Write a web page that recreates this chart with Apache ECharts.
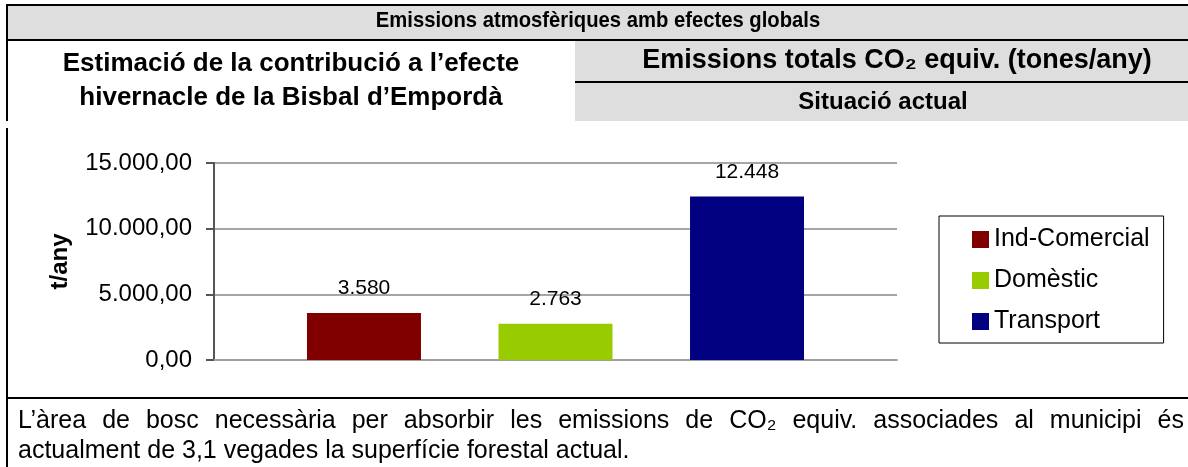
<!DOCTYPE html>
<html>
<head>
<meta charset="utf-8">
<title>Emissions atmosfèriques amb efectes globals</title>
<script src="https://cdn.jsdelivr.net/npm/echarts@6/dist/echarts.min.js"></script>
<style>
	html, body { margin: 0; padding: 0; background: #fff; }
	#chart { width: 1188px; height: 467px; }
</style>
</head>
<body>
<div id="chart"></div>
<script>
	// dades del grafic
	var categories = ['Situació actual'];
	var seriesNames = ['Ind-Comercial', 'Domèstic', 'Transport'];
	var seriesValues = [3580, 2763, 12448];
	var yTicks = [0, 5000, 10000, 15000];
	var seriesColors = ['#800000', '#99cc00', '#000080'];

	// textos de la taula
	var tableTitle = 'Emissions atmosfèriques amb efectes globals';
	var leftTitle = ['Estimació de la contribució a l’efecte', 'hivernacle de la Bisbal d’Empordà'];
	var rightTitle = 'Emissions totals CO₂ equiv. (tones/any)';
	var rightSubtitle = 'Situació actual';
	var noteLines = [
		'L’àrea de bosc necessària per absorbir les emissions de CO₂ equiv. associades al municipi és',
		'actualment de 3,1 vegades la superfície forestal actual.'
	];

	var FONT = '"Liberation Sans", Arial, sans-serif';
	var GRAY = '#dedede';

	function fmtCa(v, dec) {
		var s = v.toFixed(dec).split('.');
		s[0] = s[0].replace(/\B(?=(\d{3})+(?!\d))/g, '.');
		return dec ? s[0] + ',' + s[1] : s[0];
	}

	// text justificat de la nota: es mesura cada paraula
	function justifyWords(line, left, right, y, fontSize) {
		var ctx = document.createElement('canvas').getContext('2d');
		ctx.font = fontSize + 'px ' + FONT;
		var words = line.split(' ');
		var widths = words.map(function (w) { return ctx.measureText(w).width; });
		var total = widths.reduce(function (a, b) { return a + b; }, 0);
		var gap = (right - left - total) / (words.length - 1);
		var x = left;
		var out = [];
		for (var i = 0; i < words.length; i++) {
			out.push({
				type: 'text', x: x, y: y,
				style: {text: words[i], fontSize: fontSize, fontFamily: FONT, fill: '#000', align: 'left', verticalAlign: 'middle'}
			});
			x += widths[i] + gap;
		}
		return out;
	}

	function hline(x1, x2, y) {
		return {type: 'line', shape: {x1: x1, y1: y, x2: x2, y2: y}, style: {stroke: '#000', lineWidth: 2}};
	}

	function vline(x, y1, y2) {
		return {type: 'line', shape: {x1: x, y1: y1, x2: x, y2: y2}, style: {stroke: '#000', lineWidth: 2}};
	}

	function boldText(text, x, y, size, sx) {
		return {
			type: 'text', x: x, y: y, scaleX: sx || 1,
			style: {text: text, fontSize: size, fontWeight: 'bold', fontFamily: FONT, fill: '#000', align: 'center', verticalAlign: 'middle'}
		};
	}

	var graphics = [
		{type: 'rect', shape: {x: 7, y: 5, width: 1181, height: 35}, style: {fill: GRAY}},
		{type: 'rect', shape: {x: 575, y: 40, width: 613, height: 81}, style: {fill: GRAY}},
		hline(6, 1188, 5),
		hline(6, 1188, 40),
		hline(575, 1188, 82),
		hline(6, 1188, 398),
		vline(7, 4, 121),
		vline(7, 128, 467),
		boldText(tableTitle, 598, 21, 22, 0.92),
		boldText(leftTitle[0], 291, 64, 26),
		boldText(leftTitle[1], 291, 98, 26),
		boldText(rightTitle, 897, 61, 27),
		boldText(rightSubtitle, 883, 102, 24)
	];
	graphics = graphics.concat(justifyWords(noteLines[0], 18, 1184, 421, 25));
	graphics.push({
		type: 'text', x: 18, y: 451,
		style: {text: noteLines[1], fontSize: 25, fontFamily: FONT, fill: '#000', align: 'left', verticalAlign: 'middle'}
	});

	var series = [];
	for (var i = 0; i < seriesNames.length; i++) {
		series.push({
			name: seriesNames[i],
			type: 'bar',
			barWidth: 114,
			barGap: '68%',
			itemStyle: {color: seriesColors[i]},
			label: {
				show: true,
				position: 'top',
				distance: 14,
				fontFamily: FONT,
				fontSize: 21,
				color: '#000',
				formatter: function (p) { return fmtCa(p.value, 0); }
			},
			data: [seriesValues[i]]
		});
	}

	var chart = echarts.init(document.getElementById('chart'), null, {renderer: 'canvas'});
	chart.setOption({
		animation: false,
		textStyle: {fontFamily: FONT},
		grid: {left: 214, right: 291, top: 163, bottom: 107},
		legend: {
			orient: 'vertical',
			left: 939,
			top: 216,
			icon: 'rect',
			itemWidth: 17,
			itemHeight: 17,
			itemGap: 16,
			padding: [11, 14, 9, 33],
			borderColor: '#000',
			borderWidth: 1,
			textStyle: {fontSize: 25, color: '#000', fontFamily: FONT},
			data: seriesNames
		},
		xAxis: {
			type: 'category',
			data: categories,
			axisLine: {show: true, lineStyle: {color: '#a0a0a0', width: 2}},
			axisTick: {show: false},
			axisLabel: {show: false},
			splitLine: {show: false}
		},
		yAxis: {
			type: 'value',
			min: yTicks[0],
			max: yTicks[yTicks.length - 1],
			interval: yTicks[1] - yTicks[0],
			name: 't/any',
			nameLocation: 'middle',
			nameGap: 142,
			nameTextStyle: {fontSize: 24, fontWeight: 'bold', color: '#000', fontFamily: FONT},
			axisLine: {show: true, lineStyle: {color: '#555', width: 2}},
			axisTick: {show: true, length: 8, lineStyle: {color: '#555', width: 2}},
			axisLabel: {
				fontSize: 24,
				color: '#000',
				margin: 22,
				formatter: function (v) { return fmtCa(v, 2); }
			},
			splitLine: {show: true, lineStyle: {color: '#a6a6a6', width: 2}}
		},
		graphic: graphics,
		series: series
	});
</script>
</body>
</html>
